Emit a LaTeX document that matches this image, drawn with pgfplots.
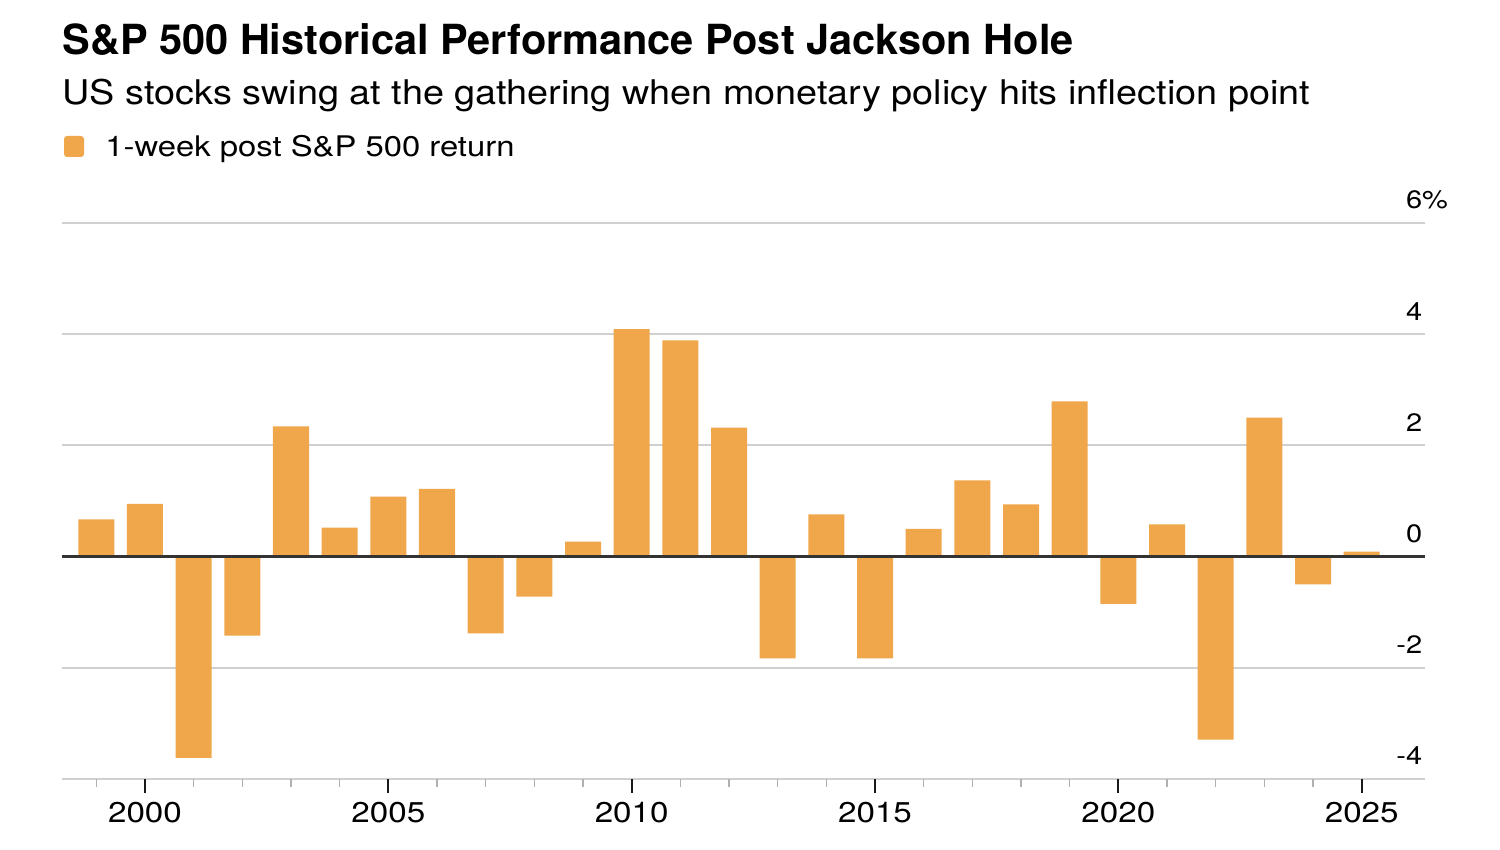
\documentclass[border=0pt]{standalone}
\usepackage{graphicx}
\usepackage{pgfplots}
\pgfplotsset{compat=1.18}
\usepackage{fontspec}
\setmainfont{TeX Gyre Heros}
\definecolor{barorange}{HTML}{F0A64B}
\definecolor{gridgray}{HTML}{D0D0D0}
\definecolor{zeroline}{HTML}{333333}
\definecolor{ticklight}{HTML}{B0B0B0}
\newcommand\hs[2]{\scalebox{#1}[1]{#2}}
\begin{document}
\begin{tikzpicture}[x=1pt,y=1pt]
\useasboundingbox (0,0) rectangle (750,425);
\fill[white] (0,0) rectangle (750,425);
% title block
\node[anchor=base west, inner sep=0pt, font=\bfseries\fontsize{20.75}{24}\selectfont] at (31,397.5) {S\&P 500 Historical Performance Post Jackson Hole};
\node[anchor=base west, inner sep=0pt, font=\fontsize{17}{20}\selectfont] at (31,372.5) {\hs{1.112}{US stocks swing at the gathering when monetary policy hits inflection point}};
\fill[barorange, rounded corners=1.5pt] (32,346.5) rectangle (42,357);
\node[anchor=base west, inner sep=0pt, font=\fontsize{14.2}{16}\selectfont] at (52.5,346.5) {\hs{1.155}{1-week post S\&P 500 return}};
\begin{axis}[
  at={(31pt,35.5pt)}, anchor=south west,
  scale only axis, width=681.5pt, height=278pt,
  xmin=1998.295, xmax=2026.3,
  ymin=-4, ymax=6,
  axis line style={draw=none},
  ytick={-4,-2,0,2,4,6}, yticklabels={},
  ytick style={draw=none},
  ymajorgrids, grid style={draw=gridgray, line width=0.9pt},
  xtick={2000,2005,2010,2015,2020,2025}, xticklabels={},
  minor xtick={1999,...,2025},
  xtick pos=lower, tick align=outside,
  major tick length=7pt, minor tick length=3.8pt,
  major tick style={draw=black!90, line width=1pt},
  minor tick style={draw=ticklight, line width=0.7pt},
  clip=false,
]
\addplot[ybar, bar width=0.74, fill=barorange, draw=none] coordinates {
(1999,0.67) (2000,0.95) (2001,-3.62) (2002,-1.42) (2003,2.34) (2004,0.52)
(2005,1.08) (2006,1.22) (2007,-1.38) (2008,-0.72) (2009,0.27) (2010,4.09)
(2011,3.89) (2012,2.32) (2013,-1.83) (2014,0.76) (2015,-1.83) (2016,0.50)
(2017,1.37) (2018,0.94) (2019,2.79) (2020,-0.85) (2021,0.58) (2022,-3.29)
(2023,2.50) (2024,-0.50) (2025,0.09)
};
\draw[zeroline, line width=1.1pt] (axis cs:1998.295,0) -- (axis cs:2026.3,0);
\node[anchor=base east, inner sep=0pt, font=\fontsize{12.6}{15}\selectfont] at (axis cs:2026.25,-4) [yshift=7pt] {\hs{1.15}{-4}};
\node[anchor=base east, inner sep=0pt, font=\fontsize{12.6}{15}\selectfont] at (axis cs:2026.25,-2) [yshift=7pt] {\hs{1.15}{-2}};
\node[anchor=base east, inner sep=0pt, font=\fontsize{12.6}{15}\selectfont] at (axis cs:2026.25,0) [yshift=7pt] {\hs{1.15}{0}};
\node[anchor=base east, inner sep=0pt, font=\fontsize{12.6}{15}\selectfont] at (axis cs:2026.25,2) [yshift=7pt] {\hs{1.15}{2}};
\node[anchor=base east, inner sep=0pt, font=\fontsize{12.6}{15}\selectfont] at (axis cs:2026.25,4) [yshift=7pt] {\hs{1.15}{4}};
\node[anchor=base east, inner sep=0pt, font=\fontsize{12.6}{15}\selectfont] at (axis cs:2026.25,6) [yshift=7pt] {\hs{1.15}{6\rlap{\%}}};
\node[anchor=base, inner sep=0pt, font=\fontsize{14.3}{16}\selectfont] at (axis cs:2000,-4) [yshift=-22pt] {\hs{1.16}{2000}};
\node[anchor=base, inner sep=0pt, font=\fontsize{14.3}{16}\selectfont] at (axis cs:2005,-4) [yshift=-22pt] {\hs{1.16}{2005}};
\node[anchor=base, inner sep=0pt, font=\fontsize{14.3}{16}\selectfont] at (axis cs:2010,-4) [yshift=-22pt] {\hs{1.16}{2010}};
\node[anchor=base, inner sep=0pt, font=\fontsize{14.3}{16}\selectfont] at (axis cs:2015,-4) [yshift=-22pt] {\hs{1.16}{2015}};
\node[anchor=base, inner sep=0pt, font=\fontsize{14.3}{16}\selectfont] at (axis cs:2020,-4) [yshift=-22pt] {\hs{1.16}{2020}};
\node[anchor=base, inner sep=0pt, font=\fontsize{14.3}{16}\selectfont] at (axis cs:2025,-4) [yshift=-22pt] {\hs{1.16}{2025}};
\end{axis}
\end{tikzpicture}
\end{document}
